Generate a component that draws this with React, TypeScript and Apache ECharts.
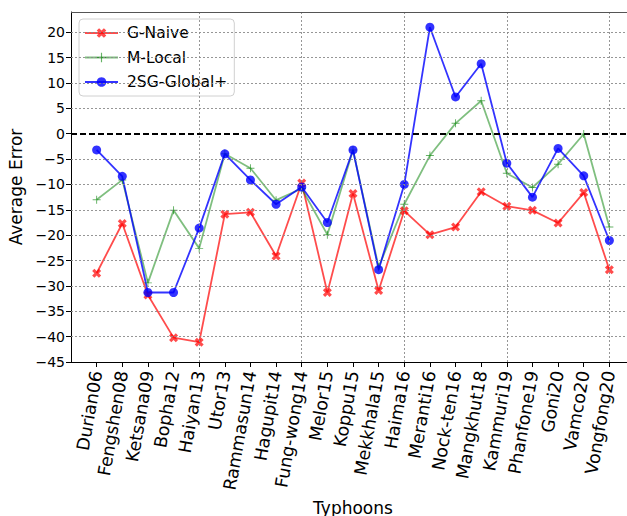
import React, { useEffect, useRef } from "react";
import * as echarts from "echarts";

const typhoons = [
  "Durian06", "Fengshen08", "Ketsana09", "Bopha12", "Haiyan13", "Utor13",
  "Rammasun14", "Hagupit14", "Fung-wong14", "Melor15", "Koppu15", "Mekkhala15",
  "Haima16", "Meranti16", "Nock-ten16", "Mangkhut18", "Kammuri19", "Phanfone19",
  "Goni20", "Vamco20", "Vongfong20",
];

const gNaive = [
  -27.5, -17.7, -31.8, -40.2, -41.1, -15.85, -15.5, -24.1, -9.7, -31.3, -11.8,
  -30.9, -15.2, -19.9, -18.4, -11.45, -14.3, -15.1, -17.6, -11.6, -26.8,
];

const mLocal = [
  -13.0, -9.1, -29.4, -15.1, -22.6, -3.95, -6.8, -13.1, -10.8, -19.9, -3.2,
  -26.3, -13.9, -4.3, 2.05, 6.5, -7.8, -10.6, -6.0, -0.05, -18.4,
];

const global2SG = [
  -3.2, -8.4, -31.3, -31.3, -18.6, -3.95, -9.1, -13.9, -10.5, -17.5, -3.2,
  -26.8, -10.0, 21.0, 7.25, 13.8, -5.8, -12.5, -2.9, -8.3, -21.05,
];

const yTicks = [-45, -40, -35, -30, -25, -20, -15, -10, -5, 0, 5, 10, 15, 20];
const xGridAt = [4, 8, 12, 16, 20];
const X_MIN = -1;
const X_MAX = 21;
const Y_MIN = -45;
const Y_MAX = 24;

const X_SYMBOL =
  "path://M0,2.5 L2.5,0 L5,2.5 L7.5,0 L10,2.5 L7.5,5 L10,7.5 L7.5,10 L5,7.5 L2.5,10 L0,7.5 L2.5,5 Z";
const PLUS_SYMBOL =
  "path://M4.4,0 L5.6,0 L5.6,4.4 L10,4.4 L10,5.6 L5.6,5.6 L5.6,10 L4.4,10 L4.4,5.6 L0,5.6 L0,4.4 L4.4,4.4 Z";

const FONT = "DejaVu Sans";
const GRID_COLOR = "#8a8a8a";

export default function App() {
  const ref = useRef<HTMLDivElement>(null);

  useEffect(() => {
    if (!ref.current) return;
    const chart = echarts.init(ref.current, undefined, { renderer: "svg" });
    const toPairs = (arr: number[]) => arr.map((v, i) => [i, v]);
    const fmtNum = (v: number) => (v < 0 ? "\u2212" + Math.abs(v) : String(v));

    const gridLines: any[] = [
      ...yTicks
        .filter((y) => y !== 0 && y !== Y_MIN)
        .map((y) => [{ coord: [X_MIN, y] }, { coord: [X_MAX, y] }]),
      ...xGridAt.map((x) => [{ coord: [x, Y_MIN] }, { coord: [x, Y_MAX] }]),
      [
        { coord: [X_MIN, Y_MAX], lineStyle: { color: "#555", type: "solid", width: 1.2 } },
        { coord: [X_MAX, Y_MAX] },
      ],
    ];

    chart.setOption({
      animation: false,
      textStyle: { fontFamily: FONT },
      grid: {
        left: 71,
        top: 12,
        right: -8,
        bottom: 154,
        show: false,
        containLabel: false,
        outerBoundsMode: "none",
      },
      legend: {
        left: 79,
        top: 19,
        orient: "vertical",
        itemWidth: 33,
        itemHeight: 12,
        itemGap: 8.5,
        padding: [6, 7, 6, 5],
        backgroundColor: "rgba(255,255,255,0.85)",
        borderColor: "#d0d0d0",
        borderWidth: 1,
        borderRadius: 4,
        textStyle: { fontFamily: FONT, fontSize: 15.5, color: "#000", padding: [0, 0, 0, 4] },
        data: ["G-Naive", "M-Local", "2SG-Global+"],
      },
      xAxis: {
        type: "value",
        min: X_MIN,
        max: X_MAX,
        interval: 1,
        name: "Typhoons",
        nameLocation: "middle",
        nameGap: 127,
        nameTextStyle: { fontFamily: FONT, fontSize: 17, color: "#000" },
        axisLine: { show: true, onZero: false, lineStyle: { color: "#000", width: 1 } },
        axisTick: { show: true, length: 5, lineStyle: { color: "#000" } },
        axisLabel: {
          rotate: 80,
          margin: 9,
          fontFamily: FONT,
          fontSize: 17.5,
          color: "#000",
          showMinLabel: false,
          showMaxLabel: false,
          formatter: (v: number) => typhoons[Math.round(v)] ?? "",
        },
        splitLine: { show: false },
        minorSplitLine: { show: false },
      },
      yAxis: {
        type: "value",
        min: Y_MIN,
        max: Y_MAX,
        interval: 5,
        name: "Average Error",
        nameLocation: "middle",
        nameGap: 40,
        nameTextStyle: { fontFamily: FONT, fontSize: 17, color: "#000" },
        axisLine: { show: true, onZero: false, lineStyle: { color: "#000", width: 1 } },
        axisTick: { show: true, length: 5, customValues: yTicks, lineStyle: { color: "#000" } },
        axisLabel: {
          customValues: yTicks,
          margin: 6,
          fontFamily: FONT,
          fontSize: 14,
          color: "#000",
          formatter: (v: number) => fmtNum(v),
        },
        splitLine: { show: false },
        minorSplitLine: { show: false },
      },
      series: [
        {
          name: "grid-lines",
          type: "line",
          data: [],
          silent: true,
          markLine: {
            silent: true,
            symbol: "none",
            label: { show: false },
            lineStyle: { color: GRID_COLOR, type: [2, 2], width: 0.9 },
            data: gridLines,
          },
        },
        {
          name: "G-Naive",
          type: "line",
          data: toPairs(gNaive),
          symbol: X_SYMBOL,
          symbolSize: 9,
          lineStyle: { color: "rgba(255,0,0,0.7)", width: 1.8 },
          itemStyle: { color: "rgba(255,0,0,0.7)" },
          emphasis: { disabled: true },
        },
        {
          name: "M-Local",
          type: "line",
          data: toPairs(mLocal),
          symbol: PLUS_SYMBOL,
          symbolSize: 8,
          lineStyle: { color: "rgba(0,128,0,0.5)", width: 1.8 },
          itemStyle: { color: "rgba(0,128,0,0.6)" },
          emphasis: { disabled: true },
        },
        {
          name: "2SG-Global+",
          type: "line",
          data: toPairs(global2SG),
          symbol: "circle",
          symbolSize: 9,
          lineStyle: { color: "rgba(0,0,255,0.8)", width: 1.8 },
          itemStyle: { color: "rgba(0,0,255,0.8)" },
          emphasis: { disabled: true },
          markLine: {
            silent: true,
            symbol: "none",
            label: { show: false },
            lineStyle: { color: "#000", type: [6, 3], width: 2 },
            data: [{ yAxis: 0 }],
          },
        },
      ],
    });
    return () => chart.dispose();
  }, []);

  return <div ref={ref} style={{ width: 627, height: 516, position: "absolute", left: 0, top: 0 }} />;
}
